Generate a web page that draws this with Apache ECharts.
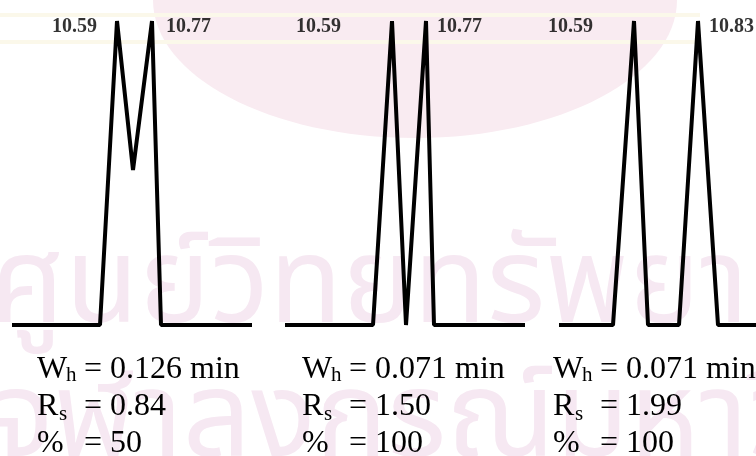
<!DOCTYPE html>
<html>
<head>
<meta charset="utf-8">
<script src="https://cdn.jsdelivr.net/npm/echarts@6/dist/echarts.min.js"></script>
<style>
html, body { margin: 0; padding: 0; background: #fff; }
#main { width: 756px; height: 456px; }
</style>
</head>
<body>
<div id="main"></div>
<script>
// chromatogram traces (x in arbitrary time units, y = % of peak height)
var traceX1 = [12, 100, 117, 133, 152, 161, 252];
var traceY1 = [0, 0, 100, 51, 100, 0, 0];
var traceX2 = [285, 373, 392, 406, 426, 434, 525];
var traceY2 = [0, 0, 100, 0, 100, 0, 0];
var traceX3 = [559, 613, 634, 648, 679, 698, 718, 756];
var traceY3 = [0, 0, 100, 0, 0, 100, 0, 0];

// retention times written at the two peak tops
var peakTimes1 = ['10.59', '10.77'];
var peakTimes2 = ['10.59', '10.77'];
var peakTimes3 = ['10.59', '10.83'];

// results under each trace
var whValues = ['0.126 min', '0.071 min', '0.071 min'];
var rsValues = ['0.84', '1.50', '1.99'];
var pctValues = ['50', '100', '100'];

var chart = echarts.init(document.getElementById('main'));

var traces = [
    {x: traceX1, y: traceY1, names: peakTimes1, gap: [20, 14]},
    {x: traceX2, y: traceY2, names: peakTimes2, gap: [51, 11]},
    {x: traceX3, y: traceY3, names: peakTimes3, gap: [41, 11]}
];

var series = [];
traces.forEach(function (t) {
    var pts = t.x.map(function (v, i) { return [v, t.y[i]]; });
    series.push({
        type: 'line',
        data: pts,
        symbol: 'none',
        clip: false,
        silent: true,
        lineStyle: {color: '#000', width: 4}
    });
    // peak tops = local maxima of the trace
    var peaks = [];
    for (var i = 1; i < pts.length - 1; i++) {
        if (pts[i][1] > pts[i - 1][1] && pts[i][1] > pts[i + 1][1]) peaks.push(pts[i]);
    }
    series.push({
        type: 'scatter',
        symbolSize: 0,
        silent: true,
        clip: false,
        data: peaks.map(function (p, k) {
            return {
                value: p,
                label: {
                    show: true,
                    formatter: t.names[k],
                    position: k === 0 ? 'left' : 'right',
                    distance: t.gap[k],
                    offset: [0, 6],
                    color: '#000',
                    fontFamily: 'Liberation Serif',
                    fontWeight: 'bold',
                    fontSize: 20
                }
            };
        })
    });
});

// text block under each trace
var textX = [37, 302, 553];
var lineY = [370, 407, 444];
var wmFont = 'Noto Sans Thai, DejaVu Sans, sans-serif';
var graphics = [
    {type: 'ellipse', shape: {cx: 415, cy: 0, rx: 262, ry: 138}, style: {fill: '#f9ebf1'}, z: -10},
    {type: 'rect', shape: {x: 0, y: 13, width: 700, height: 4}, style: {fill: '#fbf8ea'}, z: -9},
    {type: 'rect', shape: {x: 0, y: 40, width: 700, height: 4}, style: {fill: '#fbf8ea'}, z: -9},
    {type: 'text', left: -10, top: 238, z: -8, style: {text: 'ศูนย์วิทยทรัพยากร', fontSize: 120, fill: '#f6e8f2', fontFamily: wmFont}},
    {type: 'text', left: -10, top: 372, z: -8, style: {text: 'จุฬาลงกรณ์มหาวิทยาลัย', fontSize: 120, fill: '#f6e8f2', fontFamily: wmFont}}
];
var mains = [['W', 'h', 29], ['R', 's', 22], ['%', '', 0]];
for (var c = 0; c < 3; c++) {
    var vals = [whValues[c], rsValues[c], pctValues[c]];
    for (var r = 0; r < 3; r++) {
        var base = {fill: '#000', fontFamily: 'Liberation Serif', verticalAlign: 'middle'};
        graphics.push({type: 'text', x: textX[c], y: lineY[r],
            style: Object.assign({text: mains[r][0], fontSize: 32}, base)});
        if (mains[r][1]) {
            graphics.push({type: 'text', x: textX[c] + mains[r][2], y: lineY[r] + (r === 0 ? 5 : 7),
                style: Object.assign({text: mains[r][1], fontSize: 21}, base)});
        }
        graphics.push({type: 'text', x: textX[c] + 47, y: lineY[r],
            style: Object.assign({text: '= ' + vals[r], fontSize: 32}, base)});
    }
}

var option = {
    animation: false,
    backgroundColor: '#fff',
    grid: {left: 0, right: 0, top: 21, bottom: 131},
    xAxis: {type: 'value', min: 0, max: 756, show: false},
    yAxis: {type: 'value', min: 0, max: 100, show: false},
    graphic: graphics,
    series: series
};
chart.setOption(option);
</script>
</body>
</html>
